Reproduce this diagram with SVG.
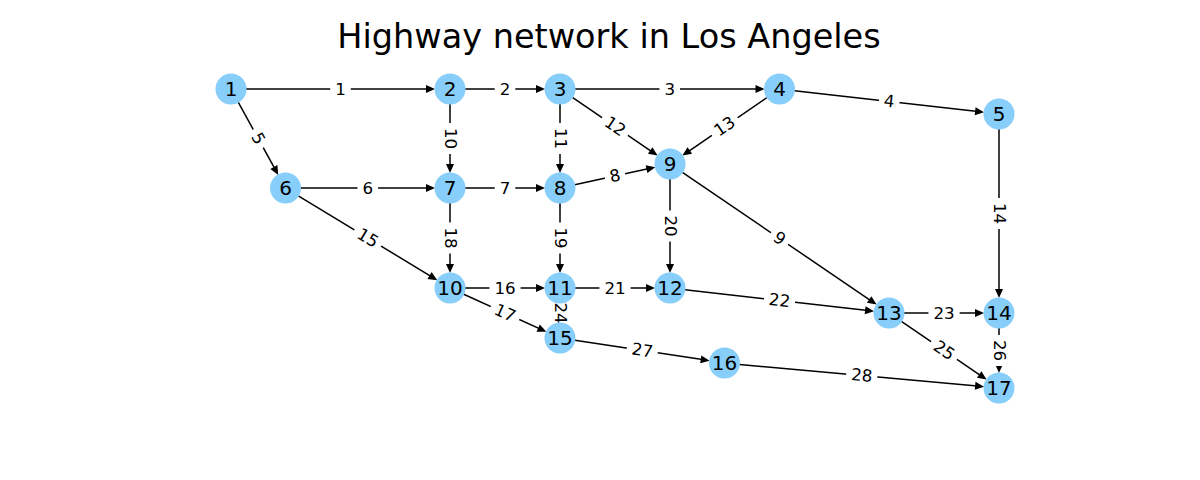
<svg xmlns="http://www.w3.org/2000/svg" width="1200" height="480" viewBox="0 0 1200 480">
<style>
.e{stroke:#000;stroke-width:1.5;fill:none;marker-end:url(#ah)}
.lb rect{fill:#fff;stroke:none}
.lb text{font-family:"DejaVu Sans",sans-serif;font-size:16.7px;text-anchor:middle;fill:#000}
.n circle{fill:#87CEFA}
.n text{font-family:"DejaVu Sans",sans-serif;font-size:20px;text-anchor:middle;fill:#000}
.t{font-family:"DejaVu Sans",sans-serif;font-size:33.5px;text-anchor:middle;fill:#000}
</style>
<defs>
<marker id="ah" markerUnits="userSpaceOnUse" viewBox="-10 -5 11 10" markerWidth="11" markerHeight="10" refX="-4" refY="0" orient="auto" overflow="visible">
<path d="M-9,-4 L0,0 L-9,4 Z" fill="#000"/>
</marker>
</defs>
<rect width="1200" height="480" fill="#fff"/>
<text class="t" x="609" y="48">Highway network in Los Angeles</text>
<g id="connectors">
<line class="e" x1="246" y1="89" x2="431" y2="89"/>
<line class="e" x1="465" y1="89" x2="541" y2="89"/>
<line class="e" x1="575" y1="89" x2="760.5" y2="89"/>
<line class="e" x1="794.4" y1="90.7" x2="980.1" y2="111.85"/>
<line class="e" x1="238.2" y1="102.1" x2="276.3" y2="171.4"/>
<line class="e" x1="300.5" y1="188" x2="431" y2="188"/>
<line class="e" x1="465" y1="188" x2="541" y2="188"/>
<line class="e" x1="574.7" y1="184.8" x2="651.4" y2="168.05"/>
<line class="e" x1="682.4" y1="172.4" x2="873.3" y2="302.3"/>
<line class="e" x1="450" y1="104" x2="450" y2="169"/>
<line class="e" x1="560" y1="104" x2="560" y2="169"/>
<line class="e" x1="572.4" y1="97.4" x2="654.3" y2="153.3"/>
<line class="e" x1="767.1" y1="97.5" x2="685.7" y2="153.3"/>
<line class="e" x1="999" y1="129" x2="999" y2="294"/>
<line class="e" x1="298.3" y1="195.8" x2="433.8" y2="278.1"/>
<line class="e" x1="465" y1="288" x2="541" y2="288"/>
<line class="e" x1="463.7" y1="294.2" x2="542.7" y2="330.1"/>
<line class="e" x1="450" y1="203" x2="450" y2="269"/>
<line class="e" x1="560" y1="203" x2="560" y2="269"/>
<line class="e" x1="670" y1="179" x2="670" y2="269"/>
<line class="e" x1="575" y1="288" x2="651" y2="288"/>
<line class="e" x1="684.9" y1="289.7" x2="870.1" y2="310.85"/>
<line class="e" x1="904" y1="313" x2="980" y2="313"/>
<line class="e" x1="560" y1="303" x2="560" y2="319"/>
<line class="e" x1="901.4" y1="321.4" x2="983.3" y2="377.3"/>
<line class="e" x1="999" y1="328" x2="999" y2="369"/>
<line class="e" x1="574.8" y1="340.3" x2="705.7" y2="360.1"/>
<line class="e" x1="739.4" y1="364.4" x2="980.1" y2="386.3"/>
<g class="lb">
<g transform="translate(340.5,89)"><rect x="-10.3" y="-13" width="20.6" height="26" rx="5"/><text y="5.5">1</text></g>
<g transform="translate(505,89)"><rect x="-10.3" y="-13" width="20.6" height="26" rx="5"/><text y="5.5">2</text></g>
<g transform="translate(669.75,89)"><rect x="-10.3" y="-13" width="20.6" height="26" rx="5"/><text y="5.5">3</text></g>
<g transform="translate(889.25,101.5) rotate(6.5)"><rect x="-10.3" y="-13" width="20.6" height="26" rx="5"/><text y="5.5">4</text></g>
<g transform="translate(258.25,138.5) rotate(61.2)"><rect x="-10.3" y="-13" width="20.6" height="26" rx="5"/><text y="5.5">5</text></g>
<g transform="translate(367.75,188)"><rect x="-10.3" y="-13" width="20.6" height="26" rx="5"/><text y="5.5">6</text></g>
<g transform="translate(505,188)"><rect x="-10.3" y="-13" width="20.6" height="26" rx="5"/><text y="5.5">7</text></g>
<g transform="translate(615,176) rotate(-12.3)"><rect x="-10.3" y="-13" width="20.6" height="26" rx="5"/><text y="5.5">8</text></g>
<g transform="translate(779.5,238.5) rotate(34.2)"><rect x="-10.3" y="-13" width="20.6" height="26" rx="5"/><text y="5.5">9</text></g>
<g transform="translate(450,138.5) rotate(90)"><rect x="-15.6" y="-13" width="31.2" height="26" rx="5"/><text y="5.5">10</text></g>
<g transform="translate(560,138.5) rotate(90)"><rect x="-15.6" y="-13" width="31.2" height="26" rx="5"/><text y="5.5">11</text></g>
<g transform="translate(615,126.5) rotate(34.3)"><rect x="-15.6" y="-13" width="31.2" height="26" rx="5"/><text y="5.5">12</text></g>
<g transform="translate(724.75,126.5) rotate(-34.4)"><rect x="-15.6" y="-13" width="31.2" height="26" rx="5"/><text y="5.5">13</text></g>
<g transform="translate(999,213.5) rotate(90)"><rect x="-15.6" y="-13" width="31.2" height="26" rx="5"/><text y="5.5">14</text></g>
<g transform="translate(367.75,238) rotate(31.3)"><rect x="-15.6" y="-13" width="31.2" height="26" rx="5"/><text y="5.5">15</text></g>
<g transform="translate(505,288)"><rect x="-15.6" y="-13" width="31.2" height="26" rx="5"/><text y="5.5">16</text></g>
<g transform="translate(505,313) rotate(24.4)"><rect x="-15.6" y="-13" width="31.2" height="26" rx="5"/><text y="5.5">17</text></g>
<g transform="translate(450,238) rotate(90)"><rect x="-15.6" y="-13" width="31.2" height="26" rx="5"/><text y="5.5">18</text></g>
<g transform="translate(560,238) rotate(90)"><rect x="-15.6" y="-13" width="31.2" height="26" rx="5"/><text y="5.5">19</text></g>
<g transform="translate(670,226) rotate(90)"><rect x="-15.6" y="-13" width="31.2" height="26" rx="5"/><text y="5.5">20</text></g>
<g transform="translate(615,288)"><rect x="-15.6" y="-13" width="31.2" height="26" rx="5"/><text y="5.5">21</text></g>
<g transform="translate(779.5,300.5) rotate(6.5)"><rect x="-15.6" y="-13" width="31.2" height="26" rx="5"/><text y="5.5">22</text></g>
<g transform="translate(944,313)"><rect x="-15.6" y="-13" width="31.2" height="26" rx="5"/><text y="5.5">23</text></g>
<g transform="translate(560,313) rotate(90)"><rect x="-15.6" y="-13" width="31.2" height="26" rx="5"/><text y="5.5">24</text></g>
<g transform="translate(944,350.5) rotate(34.3)"><rect x="-15.6" y="-13" width="31.2" height="26" rx="5"/><text y="5.5">25</text></g>
<g transform="translate(999,350.5) rotate(90)"><rect x="-15.6" y="-13" width="31.2" height="26" rx="5"/><text y="5.5">26</text></g>
<g transform="translate(642.25,350.5) rotate(8.6)"><rect x="-15.6" y="-13" width="31.2" height="26" rx="5"/><text y="5.5">27</text></g>
<g transform="translate(861.75,375.5) rotate(5.2)"><rect x="-15.6" y="-13" width="31.2" height="26" rx="5"/><text y="5.5">28</text></g>
</g>
</g>
<g id="node1" class="n"><circle cx="231" cy="89" r="15.5"/><text x="231" y="96">1</text></g>
<g id="node2" class="n"><circle cx="450" cy="89" r="15.5"/><text x="450" y="96">2</text></g>
<g id="node3" class="n"><circle cx="560" cy="89" r="15.5"/><text x="560" y="96">3</text></g>
<g id="node4" class="n"><circle cx="779.5" cy="89" r="15.5"/><text x="779.5" y="96">4</text></g>
<g id="node5" class="n"><circle cx="999" cy="114" r="15.5"/><text x="999" y="121">5</text></g>
<g id="node6" class="n"><circle cx="285.5" cy="188" r="15.5"/><text x="285.5" y="195">6</text></g>
<g id="node7" class="n"><circle cx="450" cy="188" r="15.5"/><text x="450" y="195">7</text></g>
<g id="node8" class="n"><circle cx="560" cy="188" r="15.5"/><text x="560" y="195">8</text></g>
<g id="node9" class="n"><circle cx="670" cy="164" r="15.5"/><text x="670" y="171">9</text></g>
<g id="node10" class="n"><circle cx="450" cy="288" r="15.5"/><text x="450" y="295">10</text></g>
<g id="node11" class="n"><circle cx="560" cy="288" r="15.5"/><text x="560" y="295">11</text></g>
<g id="node12" class="n"><circle cx="670" cy="288" r="15.5"/><text x="670" y="295">12</text></g>
<g id="node13" class="n"><circle cx="889" cy="313" r="15.5"/><text x="889" y="320">13</text></g>
<g id="node14" class="n"><circle cx="999" cy="313" r="15.5"/><text x="999" y="320">14</text></g>
<g id="node15" class="n"><circle cx="560" cy="338" r="15.5"/><text x="560" y="345">15</text></g>
<g id="node16" class="n"><circle cx="724.5" cy="363" r="15.5"/><text x="724.5" y="370">16</text></g>
<g id="node17" class="n"><circle cx="999" cy="388" r="15.5"/><text x="999" y="395">17</text></g>
</svg>
